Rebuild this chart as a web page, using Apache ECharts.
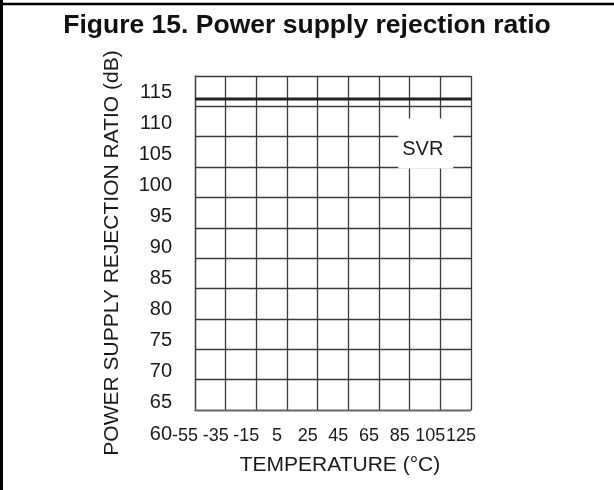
<!DOCTYPE html>
<html>
<head>
<meta charset="utf-8">
<script src="https://cdn.jsdelivr.net/npm/echarts@6/dist/echarts.min.js"></script>
<style>html,body{margin:0;padding:0;background:#fff}#c{width:614px;height:490px}</style>
</head>
<body>
<div id="c"></div>
<script>
// Data
const temperatures = [-55, -35, -15, 5, 25, 45, 65, 85, 105, 125];
const svrValues = [113.7, 113.7, 113.7, 113.7, 113.7, 113.7, 113.7, 113.7, 113.7, 113.7];
const yTickLabels = [60, 65, 70, 75, 80, 85, 90, 95, 100, 105, 110, 115];
const titleText = 'Figure 15. Power supply rejection ratio';
const xName = 'TEMPERATURE (°C)';
const yName = 'POWER SUPPLY REJECTION RATIO (dB)';
const seriesLabel = 'SVR';

const FONT = '"Liberation Sans", Arial, sans-serif';
const chart = echarts.init(document.getElementById('c'), null, {renderer: 'canvas'});

const lineData = temperatures.map((t, i) => [t, svrValues[i]]);
const xMin = temperatures[0], xMax = temperatures[temperatures.length - 1];

chart.setOption({
  animation: false,
  backgroundColor: '#fff',
  title: {
    text: titleText,
    left: 'center',
    top: 7,
    textStyle: {fontFamily: FONT, fontSize: 26.5, fontWeight: 'bold', color: '#111'}
  },
  grid: [
    {left: 195, right: 143, top: 76, bottom: 80, containLabel: false},
    {left: 195, right: 143, top: 92, bottom: 56, containLabel: false},
    {left: 185, right: 153, top: 76, bottom: 80, containLabel: false}
  ],
  xAxis: [
    {
      type: 'value', gridIndex: 0,
      min: xMin, max: xMax, interval: 20,
      name: xName, nameLocation: 'middle', nameGap: 45,
      nameTextStyle: {fontFamily: FONT, fontSize: 21, color: '#1a1a1a', padding: [0, 0, 0, 14]},
      axisLine: {show: true, onZero: false, lineStyle: {color: '#666', width: 1.3}},
      axisTick: {show: false},
      axisLabel: {show: false},
      splitLine: {show: true, lineStyle: {color: '#3a3a3a', width: 1.3}}
    },
    {
      type: 'value', gridIndex: 1, min: 0, max: 1, show: false
    },
    {
      type: 'value', gridIndex: 2,
      min: xMin, max: xMax, interval: 20,
      axisLine: {show: false, onZero: false}, axisTick: {show: false}, splitLine: {show: false},
      axisLabel: {
        show: true, margin: 17, fontFamily: FONT, fontSize: 18, color: '#1a1a1a',
        hideOverlap: false
      }
    }
  ],
  yAxis: [
    {
      type: 'value', gridIndex: 0,
      min: 62.5, max: 117.5, interval: 5,
      name: yName, nameLocation: 'middle', nameGap: 72,
      nameTextStyle: {fontFamily: FONT, fontSize: 21, color: '#1a1a1a', padding: [0, 20, 0, 0]},
      axisLine: {show: true, onZero: false, lineStyle: {color: '#444', width: 1.3}},
      axisTick: {show: false},
      axisLabel: {show: false},
      splitLine: {show: true, lineStyle: {color: '#3a3a3a', width: 1.3}}
    },
    {
      type: 'value', gridIndex: 1,
      min: yTickLabels[0], max: yTickLabels[yTickLabels.length - 1], interval: 5,
      axisLine: {show: false, onZero: false}, axisTick: {show: false}, splitLine: {show: false},
      axisLabel: {show: true, margin: 23, fontFamily: FONT, fontSize: 20, color: '#1a1a1a'}
    },
    {
      type: 'value', gridIndex: 2, min: 0, max: 1, show: false
    }
  ],
  series: [
    {
      type: 'line', xAxisIndex: 0, yAxisIndex: 0,
      data: lineData,
      showSymbol: false, symbol: 'none',
      lineStyle: {color: '#222', width: 3},
      z: 5,
      markPoint: {
        silent: true,
        symbol: 'rect',
        symbolSize: [55, 50],
        itemStyle: {color: '#fff'},
        label: {
          show: true, formatter: seriesLabel, fontFamily: FONT, fontSize: 20,
          color: '#1a1a1a', offset: [-3, 6]
        },
        data: [{coord: [95.5, 106.4]}]
      }
    }
  ],
  graphic: [
    {type: 'line', shape: {x1: 0, y1: 4, x2: 614, y2: 4}, style: {stroke: '#000', lineWidth: 2.5}, silent: true},
    {type: 'line', shape: {x1: 1.5, y1: 0, x2: 1.5, y2: 490}, style: {stroke: '#000', lineWidth: 3}, silent: true}
  ]
});
</script>
</body>
</html>
